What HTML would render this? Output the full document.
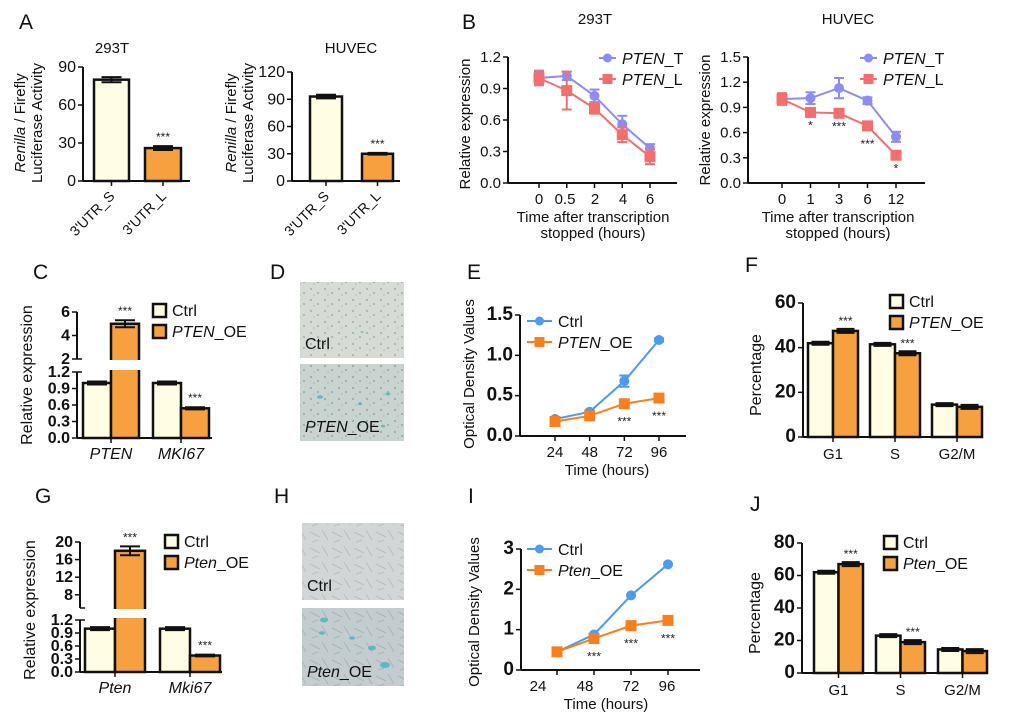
<!DOCTYPE html>
<html><head><meta charset="utf-8"><style>
body{margin:0;background:#fff}
svg{display:block;font-family:"Liberation Sans",Arial,sans-serif}
</style></head><body>
<svg id="fig" width="1020" height="712" viewBox="0 0 1020 712" xmlns="http://www.w3.org/2000/svg">
<defs>
<pattern id="cellsD" width="14" height="11" patternUnits="userSpaceOnUse"><rect width="14" height="11" fill="#d6dbd6"/><circle cx="3" cy="3" r="1.1" fill="#a9b4ad"/><circle cx="10" cy="7" r="1" fill="#a2aea6"/><circle cx="6" cy="9" r="0.8" fill="#b0bab3"/></pattern>
<pattern id="cellsD2" width="14" height="11" patternUnits="userSpaceOnUse"><rect width="14" height="11" fill="#c9d3d0"/><circle cx="3" cy="3" r="1.1" fill="#9aaca6"/><circle cx="10" cy="7" r="1" fill="#93aaa3"/><circle cx="6" cy="9" r="0.8" fill="#a8b7b2"/></pattern>
<pattern id="cellsH" width="22" height="16" patternUnits="userSpaceOnUse"><rect width="22" height="16" fill="#d2d6d6"/><path d="M2 4 L12 9 M14 2 L20 12 M4 14 L10 12" stroke="#b8bfbf" stroke-width="1"/></pattern>
<pattern id="cellsH2" width="22" height="16" patternUnits="userSpaceOnUse"><rect width="22" height="16" fill="#c3ccce"/><path d="M2 4 L12 9 M14 2 L20 12 M4 14 L10 12" stroke="#aab4b6" stroke-width="1"/></pattern>
</defs>
<g id="root"></g>
</svg>
<script>
// ---------- DATA ----------
const aCats = ["3'UTR_S", "3'UTR_L"];
const a1Values = [80, 26];
const a1Err = [2, 1.5];
const a1Ticks = [0, 30, 60, 90];
const a2Values = [93, 30];
const a2Err = [2, 1];
const a2Ticks = [0, 30, 60, 90, 120];

const b1Times = ["0", "0.5", "2", "4", "6"];
const b1T = [1.0, 1.02, 0.83, 0.56, 0.33];
const b1TErr = [0.06, 0.04, 0.06, 0.08, 0.04];
const b1L = [1.0, 0.88, 0.71, 0.46, 0.25];
const b1LErr = [0.07, 0.18, 0.05, 0.07, 0.07];
const b1Ticks = [0, 0.3, 0.6, 0.9, 1.2];
const b2Times = ["0", "1", "3", "6", "12"];
const b2T = [1.0, 1.01, 1.13, 0.98, 0.55];
const b2TErr = [0.06, 0.07, 0.12, 0.04, 0.06];
const b2L = [1.0, 0.84, 0.83, 0.68, 0.33];
const b2LErr = [0.07, 0.04, 0.02, 0.05, 0.02];
const b2Ticks = [0, 0.3, 0.6, 0.9, 1.2, 1.5];

const cCats = ["PTEN", "MKI67"];
const cCtrl = [1.0, 1.0];
const cOE = [5.0, 0.54];
const cOEErr = [0.3, 0.02];
const cLowTicks = [0, 0.3, 0.6, 0.9, 1.2];
const cHighTicks = [2, 4, 6];

const eTimes = ["24", "48", "72", "96"];
const eCtrl = [0.21, 0.30, 0.68, 1.19];
const eCtrlErr = [0.02, 0.02, 0.07, 0.02];
const eOE = [0.18, 0.25, 0.40, 0.47];
const eTicks = [0, 0.5, 1.0, 1.5];

const phases = ["G1", "S", "G2/M"];
const fCtrl = [42, 41.5, 14.5];
const fOE = [47.5, 37.5, 13.5];
const fTicks = [0, 20, 40, 60];

const gCats = ["Pten", "Mki67"];
const gCtrl = [1.0, 1.0];
const gOE = [18, 0.38];
const gOEErr = [1, 0.02];
const gLowTicks = [0, 0.3, 0.6, 0.9, 1.2];
const gHighTicks = [8, 12, 16, 20];

const iTimes = ["24", "48", "72", "96"];
const iCtrl = [0.45, 0.88, 1.85, 2.62];
const iOE = [0.45, 0.78, 1.10, 1.23];
const iTicks = [0, 1, 2, 3];

const jCtrl = [62, 23, 14.5];
const jOE = [67, 19, 13.5];
const jTicks = [0, 20, 40, 60, 80];

// ---------- HELPERS ----------
const NS = "http://www.w3.org/2000/svg";
const root = document.getElementById("root");
function mk(tag, attrs, parent) {
  const e = document.createElementNS(NS, tag);
  for (const k in attrs) e.setAttribute(k, attrs[k]);
  (parent || root).appendChild(e);
  return e;
}
function txt(x, y, s, size, extra, parent) {
  const t = mk("text", Object.assign({x: x, y: y, "font-size": size, fill: "#111"}, extra || {}), parent);
  t.innerHTML = s;
  return t;
}
function lin(d0, d1, r0, r1) { return v => r0 + (v - d0) * (r1 - r0) / (d1 - d0); }
const CREAM = "#fffde3", ORANGE = "#f6a03f";
const BLUE = "#4b9bf0", ORG2 = "#f97f1e";
const PUR = "#8c8cf5", SAL = "#f46e6e";

function panelLetter(x, y, s) {
  const t = txt(x, y, s, 21);
  
  
}

function yAxis(g, ax, y0, y1, ticks, ys, fmt, bold, size) {
  const a = mk("line", {x1: ax, y1: y0, x2: ax, y2: y1, stroke: "#111", "stroke-width": 2}, g);
  
  
  ticks.forEach(v => {
    const y = ys(v);
    mk("line", {x1: ax - 5, y1: y, x2: ax, y2: y, stroke: "#111", "stroke-width": 1.5}, g);
    const t = txt(ax - 7, y + 5, fmt(v), size || 15, {"text-anchor": "end", "font-weight": bold ? "bold" : "normal"}, g);
    
    
  });
}
function yTitle(g, x, y, s, size) {
  const t = txt(x, y, s, size || 15, {"text-anchor": "middle", transform: "rotate(-90 " + x + " " + y + ")"}, g);
  
  
  return t;
}
function stars(g, x, y, s) {
  const t = txt(x, y, s || "***", 12, {"text-anchor": "middle", fill: "#222"}, g);
  
  
}
function bar(g, x0, x1, ytop, ybase, fill, name) {
  const r = mk("rect", {x: x0, y: ytop, width: x1 - x0, height: ybase - ytop, fill: fill, stroke: "#111", "stroke-width": 2.5}, g);
  
  
  return r;
}
function errBar(g, x, y0, y1, w) {
  mk("line", {x1: x, y1: y0, x2: x, y2: y1, stroke: "#111", "stroke-width": 2}, g);
  mk("line", {x1: x - w, y1: y0, x2: x + w, y2: y0, stroke: "#111", "stroke-width": 2}, g);
  mk("line", {x1: x - w, y1: y1, x2: x + w, y2: y1, stroke: "#111", "stroke-width": 2}, g);
}
function legendBox(g, x, y, fill, label) {
  const r = mk("rect", {x: x, y: y - 8, width: 13, height: 13, fill: fill, stroke: "#111", "stroke-width": 2.5}, g);
  
  
  const t = txt(x + 19, y + 4, label, 16, {}, g);
  
  
}
function legendLine(g, x, y, color, marker, label, len) {
  len = len || 25;
  mk("line", {x1: x, y1: y, x2: x + len, y2: y, stroke: color, "stroke-width": 2}, g);
  if (marker === "c") mk("circle", {cx: x + len / 2, cy: y, r: 4.5, fill: color}, g);
  else mk("rect", {x: x + len / 2 - 5, y: y - 5, width: 10, height: 10, fill: color}, g);
  const t = txt(x + len + 6, y + 6, label, 16, {}, g);
  
  
}

// simple bar chart (panel A)
function panelA(name, ax, y0, ytop, xEnd, ticks, vals, errs, xs, title, titleX, labX) {
  const g = mk("g", {});
  
  
  const ys = lin(0, ticks[ticks.length - 1], y0, ytop);
  vals.forEach((v, i) => {
    bar(g, xs[i][0], xs[i][1], ys(v), y0, i === 0 ? CREAM : ORANGE, 'bar-' + aCats[i].replace("3'UTR_", "utr-").toLowerCase());
    errBar(g, (xs[i][0] + xs[i][1]) / 2, ys(v + errs[i]), ys(v - errs[i]), 10);
  });
  yAxis(g, ax, y0, ytop, ticks, ys, v => v, false, 16);
  const xa = mk("line", {x1: ax, y1: y0, x2: xEnd, y2: y0, stroke: "#111", "stroke-width": 2}, g);
  
  
  aCats.forEach((c, i) => {
    const cx = (xs[i][0] + xs[i][1]) / 2;
    mk("line", {x1: cx, y1: y0, x2: cx, y2: y0 + 5, stroke: "#111", "stroke-width": 1.5}, g);
    const t = txt(cx + 4, y0 + 16, c, 14, {"text-anchor": "end", transform: "rotate(-45 " + (cx + 4) + " " + (y0 + 16) + ")"}, g);
    
    
  });
  stars(g, (xs[1][0] + xs[1][1]) / 2, ys(vals[1] + errs[1]) - 5);
  const tt = txt(titleX, 53, title, 15, {"text-anchor": "middle"}, g);
  
  
  yTitle(g, labX, 123, "<tspan font-style='italic'>Renilla</tspan> / Firefly", 15);
  yTitle(g, labX + 17, 123, "Luciferase Activity", 15);
}

// line chart
function lineChart(o) {
  const g = mk("g", {});
  
  
  const ys = lin(0, o.ticks[o.ticks.length - 1], o.y0, o.ytop);
  const xs = i => o.px[0] + i * (o.px[1] - o.px[0]) / (o.n - 1);
  yAxis(g, o.ax, o.y0, o.ytop, o.ticks, ys, o.fmt, o.bold, o.tickSize);
  const xa = mk("line", {x1: o.ax, y1: o.y0, x2: o.xEnd, y2: o.y0, stroke: "#111", "stroke-width": 2}, g);
  
  
  for (let i = 0; i < o.n; i++) mk("line", {x1: xs(i), y1: o.y0, x2: xs(i), y2: o.y0 + 5, stroke: "#111", "stroke-width": 1.5}, g);
  o.labels.forEach((l, i) => {
    const lx = o.labelX ? o.labelX[i] : xs(i);
    const t = txt(lx, o.y0 + 21, l, 15, {"text-anchor": "middle"}, g);
    
    
  });
  o.series.forEach(s => {
    const pts = s.vals.map((v, i) => xs(i) + "," + ys(v)).join(" ");
    const pl = mk("polyline", {points: pts, fill: "none", stroke: s.color, "stroke-width": 2}, g);
    
    
    s.vals.forEach((v, i) => {
      if (s.err) {
        const e = s.err[i];
        mk("line", {x1: xs(i), y1: ys(v + e), x2: xs(i), y2: ys(v - e), stroke: s.color, "stroke-width": 2}, g);
        mk("line", {x1: xs(i) - 5, y1: ys(v + e), x2: xs(i) + 5, y2: ys(v + e), stroke: s.color, "stroke-width": 2}, g);
        mk("line", {x1: xs(i) - 5, y1: ys(v - e), x2: xs(i) + 5, y2: ys(v - e), stroke: s.color, "stroke-width": 2}, g);
      }
      let m;
      if (s.marker === "c") m = mk("circle", {cx: xs(i), cy: ys(v), r: 5, fill: s.color}, g);
      else m = mk("rect", {x: xs(i) - 5.5, y: ys(v) - 5.5, width: 11, height: 11, fill: s.color}, g);
      
      
    });
  });
  (o.stars || []).forEach(st => stars(g, xs(st[0]), ys(st[1]) + st[2], st[3]));
  o.legend.forEach((l, k) => legendLine(g, o.legX, o.legY + k * 21, l[0], l[1], l[2], o.legLen));
  if (o.yTitle) yTitle(g, o.yTitleX, o.yTitleY, o.yTitle, 15);
  o.xTitle.forEach((s, k) => {
    const t = txt(o.xTitleX, o.y0 + 39 + k * 16, s, 15, {"text-anchor": "middle"}, g);
    
    
  });
  if (o.title) {
    const t = txt(o.titleX, 24, o.title, 15, {"text-anchor": "middle"}, g);
    
    
  }
}

// broken-axis bar chart (C, G)
function brokenBar(o) {
  const g = mk("g", {});
  
  
  const yl = lin(0, 1.2, o.y0, o.lowTop);
  const yh = lin(o.highMin, o.highTicks[o.highTicks.length - 1], o.highBot, o.highTop);
  const ymap = v => v <= 1.2 ? yl(v) : yh(v);
  o.cats.forEach((c, i) => {
    const x = o.x0 + i * o.groupStep;
    bar(g, x, x + o.bw, ymap(o.ctrl[i]), o.y0, CREAM, 'bar-ctrl-' + c.toLowerCase());
    errBar(g, x + o.bw / 2, ymap(o.ctrl[i]) - 1.5, ymap(o.ctrl[i]) + 1.5, 10);
    bar(g, x + o.bw, x + 2 * o.bw, ymap(o.oe[i]), o.y0, ORANGE, 'bar-oe-' + c.toLowerCase());
    errBar(g, x + 1.5 * o.bw, ymap(o.oe[i] + o.err[i]), ymap(o.oe[i] - o.err[i]), 10);
    stars(g, x + 1.5 * o.bw, ymap(o.oe[i] + o.err[i]) - 5);
    const t = txt(x + o.bw, o.y0 + 21, c, 16, {"text-anchor": "middle", "font-style": "italic"}, g);
    
    
    mk("line", {x1: x + o.bw, y1: o.y0, x2: x + o.bw, y2: o.y0 + 5, stroke: "#111", "stroke-width": 1.5}, g);
  });
  const br = mk("rect", {x: o.ax - 8, y: o.highBot + 1, width: o.xEnd - o.ax + 10, height: o.lowTop - o.highBot - 3, fill: "#fff"}, g);
  
  
  yAxis(g, o.ax, o.y0, o.lowTop, o.lowTicks, yl, v => v.toFixed(1), true, 16);
  yAxis(g, o.ax, o.highBot, o.highTop, o.highTicks, yh, v => v, true, 16);
  mk("line", {x1: o.ax, y1: o.highBot, x2: o.ax + 5, y2: o.highBot, stroke: "#111", "stroke-width": 1.5}, g);
  mk("line", {x1: o.ax, y1: o.lowTop, x2: o.ax + 5, y2: o.lowTop, stroke: "#111", "stroke-width": 1.5}, g);
  const xa = mk("line", {x1: o.ax, y1: o.y0, x2: o.xEnd, y2: o.y0, stroke: "#111", "stroke-width": 2}, g);
  
  
  yTitle(g, o.ax - 45, o.yTitleY, "Relative expression", 16);
  legendBox(g, o.legX, o.legY, CREAM, "Ctrl");
  legendBox(g, o.legX, o.legY + 21, ORANGE, o.oeLabel);
}

// cell-cycle bar chart (F, J)
function cycleBar(o) {
  const g = mk("g", {});
  
  
  const ys = lin(0, o.ticks[o.ticks.length - 1], o.y0, o.ytop);
  phases.forEach((p, i) => {
    const x = o.x0 + i * o.step;
    bar(g, x, x + o.bw, ys(o.ctrl[i]), o.y0, CREAM, 'bar-ctrl-' + p.toLowerCase().replace('/', ''));
    errBar(g, x + o.bw / 2, ys(o.ctrl[i]) - 1.5, ys(o.ctrl[i]) + 1.5, 9);
    bar(g, x + o.bw, x + 2 * o.bw, ys(o.oe[i]), o.y0, ORANGE, 'bar-oe-' + p.toLowerCase().replace('/', ''));
    errBar(g, x + 1.5 * o.bw, ys(o.oe[i]) - 2, ys(o.oe[i]) + 2, 9);
    mk("line", {x1: x + o.bw, y1: o.y0, x2: x + o.bw, y2: o.y0 + 5, stroke: "#111", "stroke-width": 1.5}, g);
    const t = txt(x + o.bw, o.y0 + 22, p, 15, {"text-anchor": "middle"}, g);
    
    
  });
  o.stars.forEach(i => stars(g, o.x0 + i * o.step + 1.5 * o.bw, ys(o.oe[i]) - 6));
  yAxis(g, o.ax, o.y0, o.ytop, o.ticks, ys, v => v, true, 19);
  const xa = mk("line", {x1: o.ax, y1: o.y0, x2: o.xEnd, y2: o.y0, stroke: "#111", "stroke-width": 2}, g);
  
  
  yTitle(g, o.ax - 42, (o.y0 + o.ytop) / 2 + 5, "Percentage", 16);
  legendBox(g, o.legX, o.legY, CREAM, "Ctrl");
  legendBox(g, o.legX, o.legY + 21, ORANGE, o.oeLabel);
}

function micro(name, x, y, w, h, fill, label, blue) {
  const g = mk("g", {});
  
  
  const r = mk("rect", {x: x, y: y, width: w, height: h, fill: fill}, g);
  
  
  (blue || []).forEach(b => mk("ellipse", {cx: x + b[0], cy: y + b[1], rx: b[2], ry: b[2] * 0.6, fill: "#3cb3c4", opacity: 0.75}, g));
  const t = txt(x + 5, y + h - 9, label, 16, {}, g);
  
  
}

// ---------- DRAW ----------
panelLetter(19, 29, "A");
panelLetter(462, 29, "B");
panelLetter(33, 279, "C");
panelLetter(270, 279, "D");
panelLetter(467, 279, "E");
panelLetter(745, 272, "F");
panelLetter(35, 503, "G");
panelLetter(274, 503, "H");
panelLetter(468, 503, "I");
panelLetter(750, 511, "J");

panelA("chart-a-293t", 83, 181, 67, 190, a1Ticks, a1Values, a1Err, [[94, 129], [145, 181]], "293T", 112, 25);
panelA("chart-a-huvec", 292, 181, 72, 400, a2Ticks, a2Values, a2Err, [[310, 342], [362, 393]], "HUVEC", 351, 236);

lineChart({name: "chart-b-293t", ax: 508, y0: 183, ytop: 57, xEnd: 677, n: 5, px: [539, 650],
  labelX: [539, 565, 595, 623, 650],
  ticks: b1Ticks, fmt: v => v.toFixed(1), bold: false, tickSize: 15, labels: b1Times,
  series: [{key: "pten-t", vals: b1T, err: b1TErr, color: PUR, marker: "c"}, {key: "pten-l", vals: b1L, err: b1LErr, color: SAL, marker: "s"}],
  legend: [[PUR, "c", "<tspan font-style='italic'>PTEN</tspan>_T"], [SAL, "s", "<tspan font-style='italic'>PTEN</tspan>_L"]], legX: 599, legY: 58, legLen: 17,
  yTitle: "Relative expression", yTitleX: 470, yTitleY: 124, xTitle: ["Time after transcription", "stopped (hours)"], xTitleX: 593, title: "293T", titleX: 595});

lineChart({name: "chart-b-huvec", ax: 748, y0: 183, ytop: 57, xEnd: 925, n: 5, px: [782, 896],
  ticks: b2Ticks, fmt: v => v.toFixed(1), bold: false, tickSize: 15, labels: b2Times,
  series: [{key: "pten-t", vals: b2T, err: b2TErr, color: PUR, marker: "c"}, {key: "pten-l", vals: b2L, err: b2LErr, color: SAL, marker: "s"}],
  legend: [[PUR, "c", "<tspan font-style='italic'>PTEN</tspan>_T"], [SAL, "s", "<tspan font-style='italic'>PTEN</tspan>_L"]], legX: 860, legY: 58, legLen: 17,
  stars: [[1, b2L[1], 17, "*"], [2, b2L[2], 17, "***"], [3, b2L[3], 22, "***"], [4, b2L[4], 17, "*"]],
  yTitle: "Relative expression", yTitleX: 710, yTitleY: 120, xTitle: ["Time after transcription", "stopped (hours)"], xTitleX: 838, title: "HUVEC", titleX: 848});

brokenBar({name: "chart-c", ax: 77, y0: 438, lowTop: 372, highBot: 359, highTop: 312, highMin: 2, xEnd: 212,
  x0: 83, bw: 28, groupStep: 70, cats: cCats, ctrl: cCtrl, oe: cOE, err: cOEErr,
  lowTicks: cLowTicks, highTicks: cHighTicks, legX: 153, legY: 312, oeLabel: "<tspan font-style='italic'>PTEN</tspan>_OE", yTitleY: 375});

micro("micrograph-d-ctrl", 300, 282, 104, 76, "url(#cellsD)", "Ctrl", [[62, 50, 1.5]]);
micro("micrograph-d-oe", 300, 364, 104, 77, "url(#cellsD2)", "<tspan font-style='italic'>PTEN</tspan>_OE", [[20, 33, 3], [88, 30, 2.5], [60, 40, 2], [83, 62, 2]]);

lineChart({name: "chart-e", ax: 520, y0: 436, ytop: 315, xEnd: 686, n: 4, px: [555, 659],
  ticks: eTicks, fmt: v => v.toFixed(1), bold: true, tickSize: 19, labels: eTimes,
  series: [{key: "ctrl", vals: eCtrl, err: eCtrlErr, color: BLUE, marker: "c"}, {key: "oe", vals: eOE, color: ORG2, marker: "s"}],
  legend: [[BLUE, "c", "Ctrl"], [ORG2, "s", "<tspan font-style='italic'>PTEN</tspan>_OE"]], legX: 527, legY: 321,
  stars: [[2, eOE[2], 22, "***"], [3, eOE[3], 22, "***"]],
  yTitle: "Optical Density Values", yTitleX: 474, yTitleY: 374, xTitle: ["Time (hours)"], xTitleX: 607});

cycleBar({name: "chart-f", ax: 803, y0: 437, ytop: 303, xEnd: 982, x0: 808, bw: 25, step: 62, ctrl: fCtrl, oe: fOE, ticks: fTicks,
  stars: [0, 1], legX: 890, legY: 303, oeLabel: "<tspan font-style='italic'>PTEN</tspan>_OE"});

brokenBar({name: "chart-g", ax: 80, y0: 672, lowTop: 620, highBot: 608, highTop: 542, highMin: 5, xEnd: 222,
  x0: 85, bw: 30, groupStep: 75, cats: gCats, ctrl: gCtrl, oe: gOE, err: gOEErr,
  lowTicks: gLowTicks, highTicks: gHighTicks, legX: 165, legY: 543, oeLabel: "<tspan font-style='italic'>Pten</tspan>_OE", yTitleY: 610});

micro("micrograph-h-ctrl", 302, 523, 102, 77, "url(#cellsH)", "Ctrl", []);
micro("micrograph-h-oe", 302, 608, 102, 78, "url(#cellsH2)", "<tspan font-style='italic'>Pten</tspan>_OE", [[22, 12, 4], [50, 30, 3], [70, 40, 4], [83, 57, 5], [20, 25, 3]]);

lineChart({name: "chart-i", ax: 521, y0: 670, ytop: 549, xEnd: 700, n: 4, px: [557, 668],
  labelX: [538, 585, 631, 667],
  ticks: iTicks, fmt: v => v, bold: true, tickSize: 19, labels: iTimes,
  series: [{key: "ctrl", vals: iCtrl, color: BLUE, marker: "c"}, {key: "oe", vals: iOE, color: ORG2, marker: "s"}],
  legend: [[BLUE, "c", "Ctrl"], [ORG2, "s", "<tspan font-style='italic'>Pten</tspan>_OE"]], legX: 527, legY: 549,
  stars: [[1, iOE[1], 22, "***"], [2, iOE[2], 22, "***"], [3, iOE[3], 22, "***"]],
  yTitle: "Optical Density  Values", yTitleX: 479, yTitleY: 612, xTitle: ["Time (hours)"], xTitleX: 606});

cycleBar({name: "chart-j", ax: 802, y0: 673, ytop: 543, xEnd: 988, x0: 814, bw: 24.5, step: 62, ctrl: jCtrl, oe: jOE, ticks: jTicks,
  stars: [0, 1], legX: 884, legY: 544, oeLabel: "<tspan font-style='italic'>Pten</tspan>_OE"});
</script>
</body></html>
